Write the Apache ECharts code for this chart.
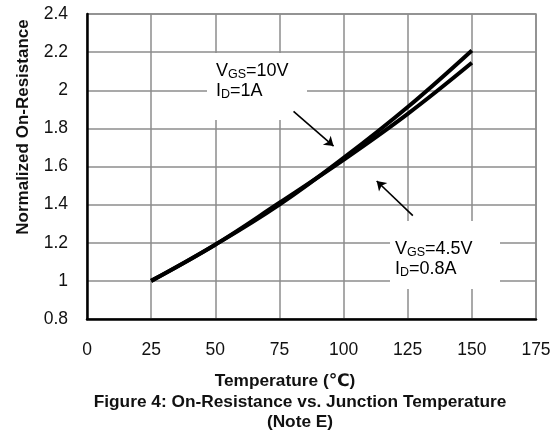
<!DOCTYPE html>
<html>
<head>
<meta charset="utf-8">
<script src="https://cdn.jsdelivr.net/npm/echarts@6/dist/echarts.min.js"></script>
<style>
html,body{margin:0;padding:0;background:#fff;}
#c{width:558px;height:437px;}
</style>
</head>
<body>
<div id="c"></div>
<script>
// Data
const temperatures = [25, 50, 75, 100, 125, 150];
const rdsVgs10 = [1.0, 1.19, 1.40, 1.645, 1.912, 2.209];
const rdsVgs45 = [1.0, 1.19, 1.41, 1.635, 1.876, 2.144];
const xTicks = [0, 25, 50, 75, 100, 125, 150, 175];
const yTicks = [0.8, 1, 1.2, 1.4, 1.6, 1.8, 2, 2.2, 2.4];
const arrow10 = [[80.5, 1.889], [96.1, 1.707]];
const arrow45 = [[127, 1.342], [112.9, 1.524]];

const FONT = '"Liberation Sans", Arial, "DejaVu Sans", sans-serif';
const chart = echarts.init(document.getElementById('c'));

function pairs(xs, ys) { return xs.map((x, i) => [x, ys[i]]); }

const sub = { fontSize: 12.5, fontFamily: FONT, color: '#111', verticalAlign: 'bottom', lineHeight: 20 };
const main = { fontSize: 18, fontFamily: FONT, color: '#111', lineHeight: 20 };

chart.setOption({
  animation: false,
  backgroundColor: '#fff',
  grid: { left: 87, right: 22, top: 14, bottom: 118, show: true, borderColor: '#8c8c8c', borderWidth: 1.5 },
  xAxis: {
    type: 'value', min: xTicks[0], max: xTicks[xTicks.length - 1], interval: 25,
    axisLine: { show: true, onZero: false, lineStyle: { color: '#000', width: 2.5 } },
    axisTick: { show: false },
    axisLabel: { color: '#111', fontSize: 17.5, fontFamily: FONT, margin: 22 },
    splitLine: { show: true, lineStyle: { color: '#8c8c8c', width: 1.5 } }
  },
  yAxis: {
    type: 'value', min: yTicks[0], max: yTicks[yTicks.length - 1], interval: 0.2,
    axisLine: { show: true, onZero: false, lineStyle: { color: '#000', width: 2.5 } },
    axisTick: { show: false },
    axisLabel: { color: '#111', fontSize: 17.5, fontFamily: FONT, margin: 19,
      formatter: v => String(Math.round(v * 10) / 10) },
    splitLine: { show: true, lineStyle: { color: '#8c8c8c', width: 1.5 } }
  },
  series: [
    {
      name: 'VGS=10V', type: 'line', smooth: 0.4, symbol: 'none',
      data: pairs(temperatures, rdsVgs10),
      lineStyle: { color: '#000', width: 4 }, z: 3,
      markLine: {
        silent: true, symbol: ['none', 'arrow'], symbolSize: 9,
        lineStyle: { color: '#000', width: 1.6, type: 'solid' },
        label: { show: false },
        data: [[{ coord: arrow10[0] }, { coord: arrow10[1] }]]
      }
    },
    {
      name: 'VGS=4.5V', type: 'line', smooth: 0.4, symbol: 'none',
      data: pairs(temperatures, rdsVgs45),
      lineStyle: { color: '#000', width: 4 }, z: 3,
      markLine: {
        silent: true, symbol: ['none', 'arrow'], symbolSize: 9,
        lineStyle: { color: '#000', width: 1.6, type: 'solid' },
        label: { show: false },
        data: [[{ coord: arrow45[0] }, { coord: arrow45[1] }]]
      }
    }
  ],
  graphic: [
    { type: 'rect', z: 1, shape: { x: 207, y: 53, width: 100, height: 67 }, style: { fill: '#fff' } },
    { type: 'text', z: 11, left: 216, top: 62, style: {
        text: '{m|V}{s|GS}{m|=10V}\n{m|I}{s|D}{m|=1A}',
        rich: { m: main, s: sub } } },
    { type: 'rect', z: 1, shape: { x: 390, y: 221, width: 110, height: 68 }, style: { fill: '#fff' } },
    { type: 'text', z: 11, left: 395, top: 240, style: {
        text: '{m|V}{s|GS}{m|=4.5V}\n{m|I}{s|D}{m|=0.8A}',
        rich: { m: main, s: sub } } },
    { type: 'text', z: 11, x: 23, y: 127, rotation: Math.PI / 2, style: {
        text: 'Normalized On-Resistance', fill: '#111', font: 'bold 17px ' + FONT,
        align: 'center', verticalAlign: 'middle' } },
    { type: 'text', z: 11, x: 285, y: 381, style: {
        text: 'Temperature (℃)', fill: '#111', font: 'bold 17.3px ' + FONT,
        align: 'center', verticalAlign: 'middle' } },
    { type: 'text', z: 11, x: 300, y: 402, style: {
        text: 'Figure 4: On-Resistance vs. Junction Temperature', fill: '#111', font: 'bold 17.3px ' + FONT,
        align: 'center', verticalAlign: 'middle' } },
    { type: 'text', z: 11, x: 300, y: 422, style: {
        text: '(Note E)', fill: '#111', font: 'bold 17.3px ' + FONT,
        align: 'center', verticalAlign: 'middle' } }
  ]
});
</script>
</body>
</html>
